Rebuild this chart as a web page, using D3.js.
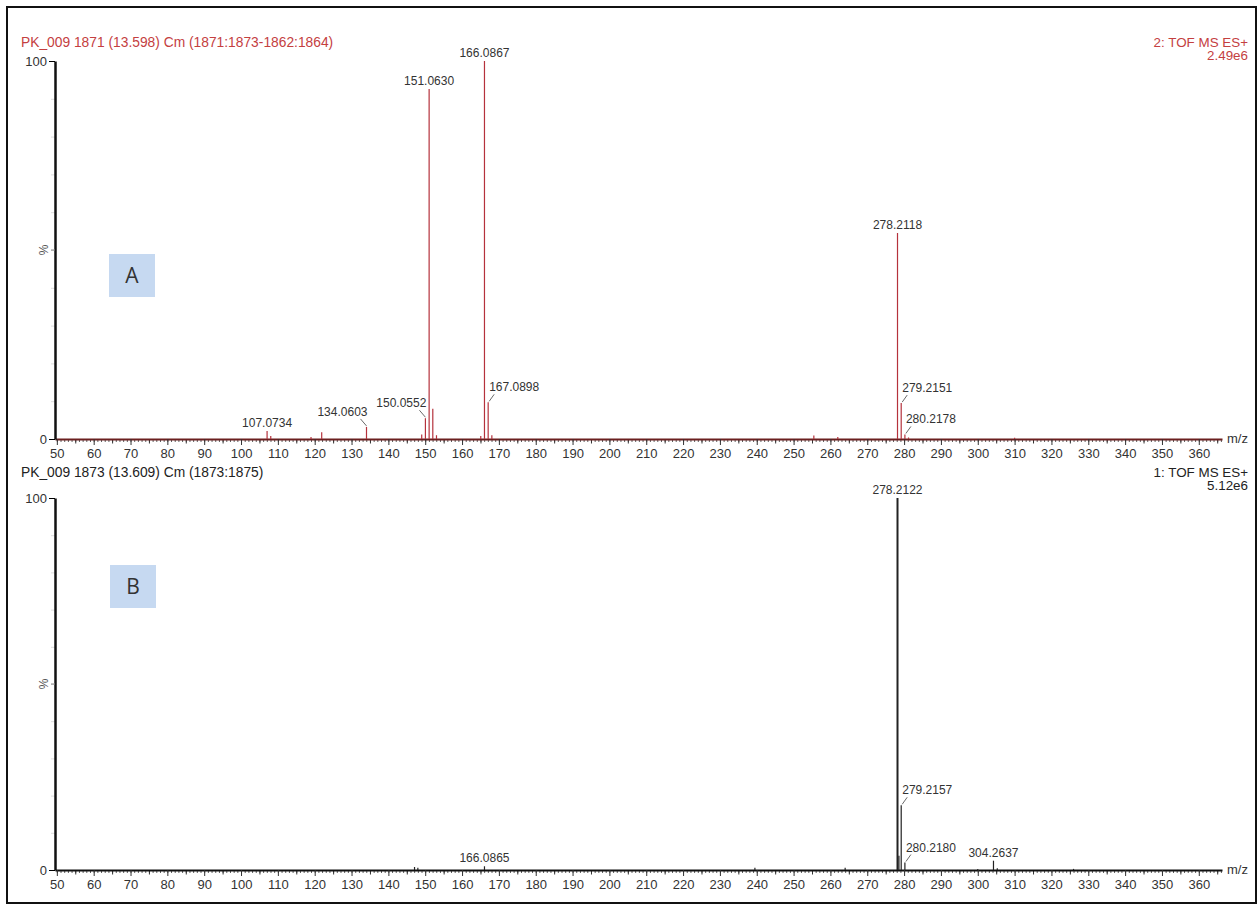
<!DOCTYPE html>
<html>
<head>
<meta charset="utf-8">
<script src="https://cdn.jsdelivr.net/npm/d3@7"></script>
<style>
	body{margin:0;background:#fff;}
	text{font-family:"Liberation Sans",Arial,sans-serif;}
</style>
</head>
<body>
<script>
	var bodyWidth = 1257;
	var bodyHeight = 904;

	// x axis
	var majorTicks = d3.range(50, 361, 10);
	var midTicks = d3.range(55, 366, 10);
	var minorTicks = d3.range(50, 367, 1);

	// spectrum A (red), % of 2.49e6
	var mzA =  [107.0734, 108.07, 119.0, 121.9, 134.0603, 149.05, 150.0552, 151.0630, 152.06, 153.06, 165.08, 166.0867, 167.0898, 168.09, 255.5, 262.0, 278.2118, 279.2151, 280.2178, 281.2, 310.0];
	var intA = [2.1,      0.8,    0.5,   1.8,   3.2,      1.2,    5.5,      92.6,     8.0,    1.0,    0.8,    100,      9.7,      1.0,    0.9,   0.5,   54.5,     9.5,      1.2,      0.4,   0.3];
	var labelsA = [107.0734, 134.0603, 150.0552, 151.0630, 166.0867, 167.0898, 278.2118, 279.2151, 280.2178];

	// spectrum B (black), % of 5.12e6
	var mzB =  [147.1, 148.0, 166.0865, 239.5, 264.0, 278.2122, 278.6, 279.2157, 280.2180, 300.0, 304.2637, 305.3, 326.0];
	var intB = [0.8,   0.6,   1.0,      0.6,   0.6,   100,      3.8,   17.4,     2.0,      0.3,   2.5,      0.5,   0.3];
	var labelsB = [166.0865, 278.2122, 279.2157, 280.2180, 304.2637];

	var svg = d3.select("body").append("svg")
		.attr("width", bodyWidth)
		.attr("height", bodyHeight);

	svg.append("rect")
		.attr("x", 7).attr("y", 7)
		.attr("width", bodyWidth - 8).attr("height", bodyHeight - 8)
		.attr("fill", "none").attr("stroke", "#111").attr("stroke-width", 2);

	var x = d3.scaleLinear().domain([49.5, 366.3]).range([55, 1222]);

	// label side: 0 centred above, -1 left with leader, +1 right with leader
	var sides = {
		"134.0603": -1, "150.0552": -1, "167.0898": 1, "279.2151": 1, "280.2178": 1,
		"279.2157": 1, "280.2180": 1
	};

	function drawPanel(p){
		var y = d3.scaleLinear().domain([0, 100]).range([p.y0, p.y100]);
		var g = svg.append("g");

		// header
		g.append("text").attr("x", 21).attr("y", p.headY).attr("font-size", 13.8)
			.attr("fill", p.textColor).text(p.title);
		g.append("text").attr("x", 1248).attr("y", p.headY).attr("font-size", 13.4)
			.attr("text-anchor", "end").attr("fill", p.textColor).text(p.mode);
		g.append("text").attr("x", 1248).attr("y", p.headY + 13).attr("font-size", 13.4)
			.attr("text-anchor", "end").attr("fill", p.textColor).text(p.scale);

		// panel letter
		g.append("rect").attr("x", p.boxX).attr("y", p.boxY).attr("width", 46).attr("height", 43)
			.attr("fill", "#c6d9f1");
		g.append("text").attr("x", p.boxX + 23).attr("y", p.boxY + 29).attr("text-anchor", "middle")
			.attr("font-size", 21).attr("fill", "#333").style("font-family", "'Open Sans',sans-serif")
			.text(p.letter);

		// x axis: minor, mid, major
		g.append("g").attr("transform", "translate(0," + p.y0 + ")")
			.call(d3.axisBottom(x).tickValues(minorTicks).tickSize(3).tickFormat(""))
			.call(function(s){ s.select(".domain").remove(); })
			.selectAll("line").attr("stroke", "#333").attr("stroke-width", 0.8);
		g.append("g").attr("transform", "translate(0," + p.y0 + ")")
			.call(d3.axisBottom(x).tickValues(midTicks).tickSize(4.5).tickFormat(""))
			.call(function(s){ s.select(".domain").remove(); })
			.selectAll("line").attr("stroke", "#333");
		var ax = g.append("g").attr("transform", "translate(0," + p.y0 + ")")
			.call(d3.axisBottom(x).tickValues(majorTicks).tickSize(6).tickPadding(4).tickSizeOuter(0));
		ax.select(".domain").attr("stroke", p.axisColor).attr("stroke-width", 2);
		ax.selectAll(".tick line").attr("stroke", "#333");
		ax.selectAll("text").attr("font-size", 13).attr("fill", "#333")
			.style("font-family", "'Liberation Sans',Arial,sans-serif");
		g.append("text").attr("x", 1227).attr("y", p.y0 + 4).attr("font-size", 13)
			.attr("fill", "#333").text("m/z");

		// y axis
		g.append("g").attr("transform", "translate(55,0)")
			.call(d3.axisLeft(y).tickValues(d3.range(10, 100, 10)).tickSize(4).tickFormat(""))
			.call(function(s){ s.select(".domain").remove(); })
			.selectAll("line").attr("stroke", "#ddd");
		var ay = g.append("g").attr("transform", "translate(55,0)")
			.call(d3.axisLeft(y).tickValues([0, 100]).tickSize(6).tickPadding(2).tickSizeOuter(0));
		ay.select(".domain").attr("stroke", "#111").attr("stroke-width", 2.5);
		ay.selectAll("text").attr("font-size", 13).attr("fill", "#333")
			.style("font-family", "'Liberation Sans',Arial,sans-serif");
		g.append("line").attr("x1", 51).attr("x2", 55).attr("y1", y(50)).attr("y2", y(50))
			.attr("stroke", "#888");
		g.append("text").attr("transform", "translate(48," + y(50) + ") rotate(-90)")
			.attr("text-anchor", "middle").attr("font-size", 12).attr("fill", "#555").text("%");

		// peaks
		g.selectAll(".peak").data(d3.zip(p.mz, p.int)).enter().append("line")
			.attr("class", "peak")
			.attr("x1", function(d){ return x(d[0]); })
			.attr("x2", function(d){ return x(d[0]); })
			.attr("y1", y(0))
			.attr("y2", function(d){ return y(d[1]); })
			.attr("stroke", p.peakColor)
			.attr("stroke-width", function(d){ return d[1] >= 99 ? p.baseWidth : 1.2; });

		// peak labels
		p.labels.forEach(function(m){
			var i = p.mz.indexOf(m);
			var px = x(m), top = y(p.int[i]);
			var key = m.toFixed(4);
			var side = sides[key] || 0;
			var t = g.append("text").attr("font-size", 12).attr("fill", "#333").text(key);
			if(side === 0){
				t.attr("x", px).attr("y", top - 4).attr("text-anchor", "middle");
			} else {
				t.attr("x", px + 1).attr("y", top - 11)
					.attr("text-anchor", side < 0 ? "end" : "start");
				g.append("line")
					.attr("x1", px + (side < 0 ? -6 : 6)).attr("y1", top - 8)
					.attr("x2", px + (side < 0 ? 0 : 1)).attr("y2", top - 1)
					.attr("stroke", "#444").attr("stroke-width", 0.8);
			}
		});
	}

	drawPanel({
		title: "PK_009 1871 (13.598) Cm (1871:1873-1862:1864)",
		mode: "2: TOF MS ES+", scale: "2.49e6", headY: 47,
		textColor: "#c4403f", peakColor: "#b5323c", axisColor: "#6b1f1f", baseWidth: 1.2,
		y0: 439, y100: 61, boxX: 109, boxY: 254, letter: "A",
		mz: mzA, int: intA, labels: labelsA
	});
	drawPanel({
		title: "PK_009 1873 (13.609) Cm (1873:1875)",
		mode: "1: TOF MS ES+", scale: "5.12e6", headY: 477,
		textColor: "#222", peakColor: "#222", axisColor: "#111", baseWidth: 2,
		y0: 870, y100: 498, boxX: 110, boxY: 565, letter: "B",
		mz: mzB, int: intB, labels: labelsB
	});
</script>
</body>
</html>
